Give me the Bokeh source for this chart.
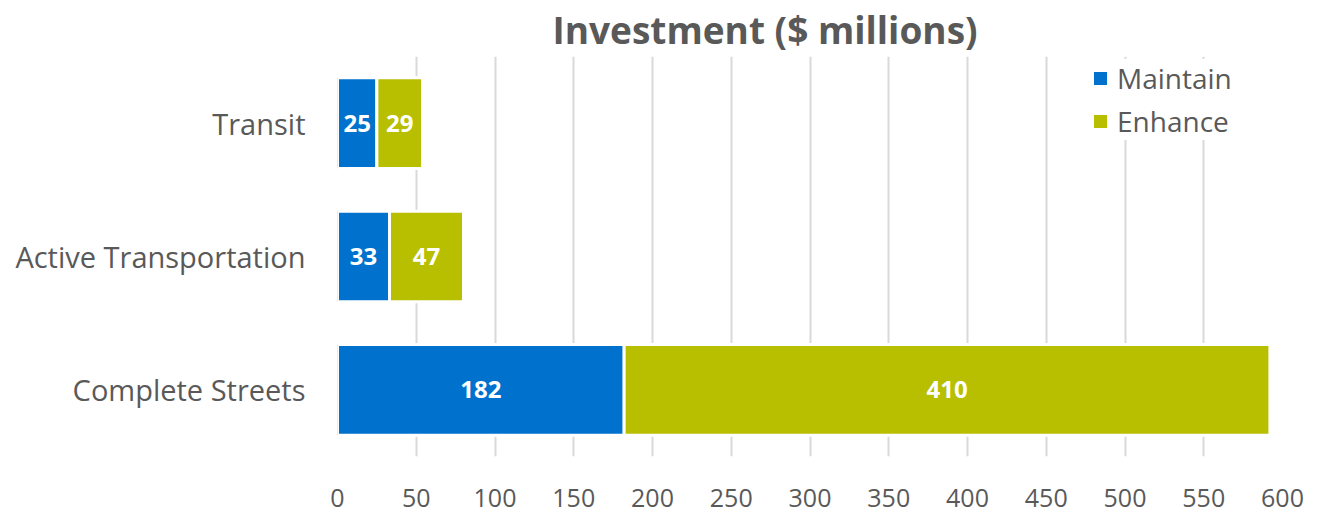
from bokeh.plotting import figure
from bokeh.models import ColumnDataSource, FactorRange, Range1d, FixedTicker, Legend, LegendItem
from bokeh.core.properties import value
from bokeh.embed import file_html
from bokeh.resources import INLINE

categories = ["Complete Streets", "Active Transportation", "Transit"]
maintain = [182, 33, 25]
enhance = [410, 47, 29]
x_ticks = [0, 50, 100, 150, 200, 250, 300, 350, 400, 450, 500, 550, 600]

BLUE = "#0072CE"
OLIVE = "#B7BF00"
GRAY = "#595959"
FONT = "Open Sans"

src = ColumnDataSource(dict(
    cat=categories,
    maintain=maintain,
    enhance=enhance,
    m_mid=[m / 2 for m in maintain],
    e_mid=[m + e / 2 for m, e in zip(maintain, enhance)],
    m_lab=[str(v) for v in maintain],
    e_lab=[str(v) for v in enhance],
))

p = figure(width=1329, height=516,
           y_range=FactorRange(factors=categories, range_padding=0),
           x_range=Range1d(0, 600),
           output_backend="svg", toolbar_location=None,
           min_border_left=337, min_border_right=47,
           min_border_top=56, min_border_bottom=60)

p.outline_line_color = None
p.background_fill_color = "white"
p.border_fill_color = "white"

r = p.hbar_stack(["maintain", "enhance"], y="cat", height=0.68, source=src,
                 color=[BLUE, OLIVE], line_color="white", line_width=3)

for xcol, tcol in (("m_mid", "m_lab"), ("e_mid", "e_lab")):
    p.text(x=xcol, y="cat", text=tcol, source=src, text_color="white",
           text_font=value(FONT), text_font_style="bold", text_font_size="24px",
           text_align="center", text_baseline="middle")

p.title.text = "Investment ($ millions)"
p.title.text_font = FONT
p.title.text_font_size = "37px"
p.title.text_font_style = "bold"
p.title.text_color = GRAY
p.title.align = "left"
p.title.offset = 215
p.title.standoff = 0
p.title.vertical_align = "top"
p.title.text_line_height = 0.8

p.xaxis.ticker = FixedTicker(ticks=x_ticks)
p.xaxis.axis_line_color = None
p.xaxis.major_tick_line_color = None
p.xaxis.minor_tick_line_color = None
p.xaxis.major_label_text_font = FONT
p.xaxis.major_label_text_font_size = "25px"
p.xaxis.major_label_text_color = GRAY
p.xaxis.major_label_standoff = 26

p.yaxis.axis_line_color = None
p.yaxis.major_tick_line_color = None
p.yaxis.minor_tick_line_color = None
p.yaxis.major_label_text_font = FONT
p.yaxis.major_label_text_font_size = "29px"
p.yaxis.major_label_text_color = GRAY
p.yaxis.major_label_standoff = 26

p.ygrid.grid_line_color = None
p.xgrid.grid_line_color = "#D9D9D9"
p.xgrid.grid_line_width = 2

legend = Legend(items=[LegendItem(label="Maintain", renderers=[r[0]]),
                       LegendItem(label="Enhance", renderers=[r[1]])],
                location=(753, 316))
legend.label_text_font = FONT
legend.label_text_font_size = "28px"
legend.label_text_color = GRAY
legend.glyph_width = 20
legend.glyph_height = 20
legend.label_standoff = 7
legend.padding = 6
legend.spacing = 5
legend.border_line_color = None
legend.background_fill_color = "white"
legend.background_fill_alpha = 1
p.add_layout(legend)

open("out.html", "w").write(file_html(p, INLINE))
